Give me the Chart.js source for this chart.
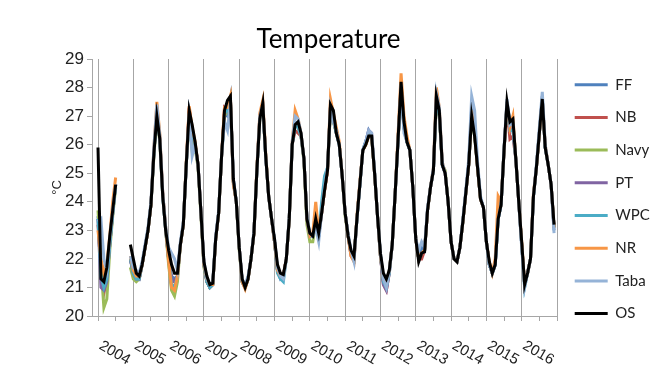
<!DOCTYPE html>
<html>
<head>
<meta charset="utf-8">
<script src="https://cdn.jsdelivr.net/npm/chart.js@4.4.1/dist/chart.umd.min.js"></script>
<style>
html,body{margin:0;padding:0;background:#fff;}
#wrap{width:657px;height:391px;position:relative;}
</style>
</head>
<body>
<div id="wrap"><canvas id="temperatura"></canvas></div>
<script>
// years on the axis, monthly values per station (Jan..Dec each row)
const years = [2004,2005,2006,2007,2008,2009,2010,2011,2012,2013,2014,2015,2016];
const N = null;

const FF = [
 23.5,22.0,21.1,21.5,22.6,23.6,24.6,N,N,N,N,22.0,
 21.5,21.4,21.3,21.8,22.4,23.0,23.9,25.8,27.2,26.3,24.3,23.1,
 22.0,21.4,21.3,21.4,22.5,23.2,25.3,27.1,26.4,26.0,25.3,23.6,
 21.8,21.3,21.0,21.1,22.7,23.6,25.6,27.1,27.0,27.6,24.8,24.0,
 22.4,21.2,21.0,21.3,22.0,22.9,25.1,27.0,27.4,25.6,24.2,23.4,
 22.6,21.6,21.3,21.4,22.0,23.4,26.0,26.8,26.7,26.4,25.5,23.4,
 22.8,22.8,23.3,22.8,23.6,24.5,25.1,27.3,26.8,26.5,26.0,24.9,
 23.6,22.8,22.2,22.0,23.4,24.6,25.8,26.1,26.5,26.3,25.0,23.5,
 22.1,21.2,21.0,21.6,22.5,24.3,26.2,28.0,26.6,26.1,25.8,24.5,
 22.7,22.1,22.4,22.3,23.7,24.5,25.1,27.6,27.1,25.3,25.0,24.0,
 22.6,22.0,21.9,22.4,23.3,24.3,25.3,27.3,26.5,25.2,24.1,23.8,
 22.6,21.8,21.5,21.8,23.5,23.9,25.8,27.5,26.7,26.8,25.5,24.0,
 22.5,21.1,21.5,22.0,24.2,25.2,26.4,27.7,25.9,25.3,24.6,23.0
];
const NB = [
 23.2,21.6,20.8,21.3,22.5,23.6,24.6,N,N,N,N,22.0,
 21.5,21.3,21.3,21.8,22.4,23.0,23.9,25.7,27.2,26.2,24.3,23.0,
 22.0,21.2,21.2,21.4,22.5,23.2,25.3,27.3,26.4,26.0,25.3,23.6,
 21.8,21.2,21.0,21.1,22.7,23.6,25.6,27.3,27.2,27.6,24.7,24.0,
 22.4,21.2,21.0,21.3,22.0,22.9,25.1,27.0,27.4,25.6,24.2,23.4,
 22.6,21.6,21.4,21.4,22.0,23.4,26.0,26.5,26.4,26.3,25.5,23.4,
 22.8,22.8,23.4,22.8,23.6,24.4,25.1,27.3,26.9,26.4,26.0,24.9,
 23.6,22.8,22.1,21.95,23.4,24.6,25.8,26.0,26.3,26.3,25.0,23.5,
 22.1,21.1,20.9,21.5,22.5,24.3,26.2,28.1,26.6,26.1,25.8,24.5,
 22.7,22.0,22.0,22.3,23.7,24.5,25.1,27.6,27.1,25.3,25.0,24.0,
 22.6,22.0,21.9,22.4,23.3,24.3,25.3,27.1,26.4,25.2,24.1,23.8,
 22.6,21.8,21.5,21.8,23.4,23.9,25.8,27.3,26.2,26.3,25.5,24.0,
 22.5,21.1,21.5,22.0,24.2,25.2,26.4,27.6,25.9,25.3,24.6,23.1
];
const Navy = [
 23.7,21.8,20.3,20.6,22.3,23.5,24.5,N,N,N,N,21.7,
 21.3,21.2,21.3,21.8,22.4,23.0,23.9,25.6,27.0,26.1,24.2,23.0,
 21.8,20.9,20.7,21.2,22.5,23.2,25.3,26.9,25.8,25.9,25.2,23.5,
 21.7,21.2,21.0,21.1,22.7,23.6,25.6,27.0,27.2,27.6,24.7,24.0,
 22.3,21.2,21.0,21.3,22.0,22.9,25.1,26.9,27.3,25.6,24.2,23.4,
 22.6,21.6,21.4,21.4,22.0,23.4,26.0,26.7,26.6,26.3,25.4,23.2,
 22.6,22.6,23.3,22.8,23.6,24.4,25.1,27.2,26.8,26.4,26.0,24.9,
 23.5,22.8,22.2,22.0,23.4,24.6,25.8,26.0,26.3,26.3,25.0,23.5,
 22.1,21.3,21.1,21.6,22.5,24.3,26.2,28.0,26.6,26.1,25.8,24.5,
 22.7,22.0,22.2,22.3,23.7,24.5,25.1,27.5,27.0,25.3,25.1,24.0,
 22.6,22.0,21.9,22.4,23.3,24.3,25.3,27.0,26.3,25.2,24.1,23.8,
 22.6,21.8,21.5,21.8,23.4,23.9,25.8,27.4,26.6,26.8,25.5,24.0,
 22.5,21.1,21.5,22.0,24.2,25.2,26.4,27.6,25.9,25.3,24.6,23.1
];
const PT = [
 23.4,21.0,20.9,21.2,22.5,23.6,24.6,N,N,N,N,22.0,
 21.5,21.3,21.3,21.8,22.4,23.0,23.9,25.7,27.1,26.2,24.2,23.0,
 22.0,21.3,21.2,21.4,22.5,23.2,25.3,27.1,26.3,26.0,25.3,23.6,
 21.8,21.2,21.0,21.1,22.7,23.6,25.6,27.1,27.2,27.6,24.7,24.0,
 22.4,21.2,21.0,21.3,22.0,22.9,25.1,27.0,27.4,25.6,24.2,23.4,
 22.6,21.6,21.4,21.4,22.0,23.4,26.0,26.7,26.6,26.3,25.5,23.4,
 22.8,22.8,23.3,22.8,23.6,24.4,25.1,27.3,26.9,26.4,26.0,24.9,
 23.6,22.8,22.2,22.0,23.4,24.6,25.8,26.1,26.5,26.4,25.0,23.5,
 22.1,21.1,20.9,21.5,22.5,24.3,26.2,28.0,26.6,26.1,25.8,24.5,
 22.7,22.0,22.2,22.3,23.7,24.5,25.1,27.6,27.1,25.3,25.0,24.0,
 22.6,22.0,21.9,22.4,23.3,24.3,25.3,27.1,26.4,25.2,24.1,23.8,
 22.6,21.8,21.5,21.8,23.4,23.9,25.8,27.4,26.6,26.6,25.5,24.0,
 22.5,21.1,21.5,22.0,24.2,25.2,26.4,27.6,25.9,25.3,24.6,23.1
];
const WPC = [
 23.4,21.4,21.0,21.3,22.5,23.6,24.6,N,N,N,N,22.0,
 21.5,21.3,21.3,21.8,22.4,23.0,23.9,25.7,27.1,26.2,24.2,23.0,
 22.0,21.1,21.0,21.4,22.5,23.2,25.3,27.1,26.3,26.0,25.3,23.6,
 21.8,21.2,21.0,21.1,22.7,23.6,25.6,27.1,27.2,27.6,24.7,24.0,
 22.4,21.2,21.0,21.3,22.0,22.9,25.1,27.0,27.4,25.6,24.2,23.4,
 22.6,21.5,21.3,21.2,22.0,23.4,26.0,26.7,26.6,26.3,25.5,23.4,
 22.8,22.8,23.3,22.8,24.0,24.9,25.2,27.3,26.9,26.4,26.0,24.9,
 23.6,22.8,22.2,22.0,23.4,24.6,25.8,26.1,26.4,26.3,25.0,23.5,
 22.1,21.2,21.0,21.5,22.5,24.3,26.2,28.0,26.6,26.1,25.8,24.5,
 22.7,22.0,22.2,22.3,23.7,24.5,25.1,27.6,27.1,25.3,25.0,24.0,
 22.6,22.0,21.9,22.4,23.3,24.3,25.3,27.1,26.4,25.2,24.1,23.8,
 22.6,21.8,21.5,21.8,23.4,23.9,25.8,27.4,26.5,26.5,25.5,24.0,
 22.5,21.0,21.5,22.0,24.2,25.2,26.4,27.6,25.9,25.3,24.6,23.1
];
const NR = [
 23.0,22.0,21.5,21.8,22.8,24.0,24.85,N,N,N,N,22.1,
 21.6,21.4,21.4,21.8,22.4,23.0,23.9,25.9,27.5,26.4,24.3,23.1,
 21.9,21.0,20.9,21.4,22.5,23.2,25.4,27.35,26.6,26.1,25.3,23.6,
 21.8,21.3,21.1,21.1,22.7,23.6,25.6,27.3,27.3,27.7,24.6,24.0,
 22.4,21.2,20.95,21.3,22.0,22.9,25.2,27.1,27.55,25.7,24.2,23.4,
 22.6,21.6,21.4,21.4,22.0,23.4,26.1,27.2,26.9,26.4,25.5,23.4,
 22.8,22.9,24.0,22.9,23.6,24.4,25.1,27.6,27.1,26.6,26.1,24.9,
 23.6,22.8,22.1,21.9,23.5,24.7,25.8,26.0,26.3,26.3,25.0,23.5,
 22.1,21.3,21.1,21.6,22.5,24.3,26.4,28.5,27.0,26.3,25.8,24.5,
 22.7,22.0,22.2,22.3,23.7,24.5,25.2,28.0,27.3,25.4,25.0,24.0,
 22.6,22.0,21.9,22.4,23.3,24.3,25.3,27.2,26.4,25.2,24.1,23.8,
 22.6,21.9,21.5,22.0,24.2,24.0,25.8,27.5,26.6,27.0,25.5,24.0,
 22.6,21.1,21.5,22.0,24.3,25.2,26.4,27.6,26.0,25.3,24.6,23.1
];
const Taba = [
 23.3,23.4,22.0,21.6,22.7,23.7,24.6,N,N,N,N,22.1,
 21.7,21.6,21.5,21.9,22.5,23.1,24.0,25.9,27.4,26.3,24.3,23.1,
 22.4,22.2,22.0,21.6,22.6,23.3,25.3,27.1,25.6,26.0,25.3,23.6,
 21.9,21.3,21.1,21.2,22.8,23.7,25.6,26.8,26.5,27.5,24.8,24.0,
 22.4,21.3,21.1,21.4,22.0,23.0,25.1,27.0,27.4,25.6,24.2,23.4,
 22.7,21.7,21.4,21.3,22.0,23.5,26.1,27.0,26.9,26.4,25.5,23.5,
 22.9,22.8,23.1,22.6,23.6,24.5,25.2,27.3,26.8,26.5,26.0,24.9,
 23.6,22.9,22.3,21.9,23.4,24.6,25.8,26.1,26.5,26.4,25.1,23.5,
 22.2,21.3,21.0,21.6,22.5,24.3,26.2,28.1,26.4,26.1,25.8,24.5,
 22.7,22.3,22.6,22.4,23.8,24.5,25.2,27.8,27.3,25.4,25.0,24.0,
 22.6,22.0,21.9,22.4,23.4,24.4,25.5,27.7,27.2,25.4,24.2,23.8,
 22.6,21.8,21.5,21.8,23.4,23.9,25.9,27.6,26.7,26.8,25.5,24.0,
 22.4,21.0,21.5,22.0,24.2,25.3,26.6,27.85,26.0,25.3,24.6,22.9
];
const OS = [
 25.9,21.3,21.2,21.7,22.8,23.7,24.6,N,N,N,N,22.5,
 22.0,21.5,21.4,21.8,22.4,23.0,23.9,25.7,27.0,26.2,24.2,23.0,
 22.3,21.8,21.5,21.5,22.5,23.2,25.3,27.2,26.7,26.1,25.3,23.6,
 21.9,21.4,21.1,21.15,22.7,23.6,25.6,27.2,27.55,27.7,24.8,24.0,
 22.4,21.3,21.0,21.3,22.0,22.9,25.1,26.9,27.45,25.6,24.2,23.4,
 22.7,21.8,21.5,21.45,22.0,23.4,26.0,26.7,26.8,26.4,25.5,23.4,
 22.9,22.8,23.4,22.9,23.6,24.4,25.1,27.4,27.2,26.4,26.0,24.9,
 23.6,22.8,22.3,22.1,23.4,24.6,25.8,26.0,26.3,26.3,25.0,23.5,
 22.2,21.5,21.3,21.6,22.5,24.3,26.2,28.2,26.8,26.1,25.8,24.5,
 22.7,21.9,22.2,22.25,23.7,24.5,25.1,27.7,27.2,25.3,25.0,24.0,
 22.6,22.0,21.9,22.4,23.3,24.3,25.3,27.0,26.3,25.2,24.1,23.8,
 22.6,21.9,21.5,21.8,23.4,23.9,25.8,27.5,26.8,26.9,25.5,24.0,
 22.6,21.1,21.5,22.0,24.2,25.2,26.4,27.6,25.9,25.3,24.6,23.2
];

// fecha de cada mes como fraccion de anio
const meses = [];
years.forEach(a => { for (let m = 0; m < 12; m++) meses.push(a + m / 12); });

const series = [
  ["FF", FF, "#4F81BD"],
  ["NB", NB, "#C0504D"],
  ["Navy", Navy, "#9BBB59"],
  ["PT", PT, "#8064A2"],
  ["WPC", WPC, "#4BACC6"],
  ["NR", NR, "#F79646"],
  ["Taba", Taba, "#95B3D7"],
  ["OS", OS, "#000000"]
];
const gris = "#a6a6a6";

// etiquetas de anios inclinadas hacia abajo
const etiquetasAnios = {
  id: "etiquetasAnios",
  afterDraw(chart) {
    const xs = chart.scales.x, ctx = chart.ctx;
    ctx.save();
    ctx.font = '15px "Liberation Sans", Arial, sans-serif';
    ctx.fillStyle = "#222";
    ctx.textAlign = "center";
    ctx.textBaseline = "middle";
    years.forEach(a => {
      const px = xs.getPixelForValue(a + 0.5) - 1;
      ctx.save();
      ctx.translate(px, xs.top + 37);
      ctx.rotate(Math.PI / 6);
      ctx.fillText(String(a), 0, 0);
      ctx.restore();
    });
    ctx.restore();
  }
};

const grafico = document.getElementById("temperatura");
const myChart = new Chart(grafico, {
  type: "line",
  data: {
    labels: meses,
    datasets: series.map((s, i) => ({
      label: s[0],
      data: s[1],
      borderColor: s[2],
      backgroundColor: s[2],
      borderWidth: 3,
      pointRadius: 0,
      tension: 0,
      fill: false,
      order: series.length - i
    }))
  },
  options: {
    responsive: true,
    maintainAspectRatio: false,
    animation: false,
    layout: { padding: 0 },
    plugins: {
      title: {
        display: true,
        text: "Temperature",
        color: "#000",
        font: { family: "Lato", size: 26, weight: "normal" },
        padding: { top: 24.5, bottom: 3.3 }
      },
      legend: {
        position: "right",
        align: "start",
        maxWidth: 100,
        title: { display: true, text: "", font: { size: 10 }, padding: { top: 47.5, bottom: 0 } },
        labels: {
          usePointStyle: true,
          pointStyle: "line",
          pointStyleWidth: 33,
          color: "#222",
          font: { family: "Lato", size: 15 },
          padding: 17.7,
          sort: (a, b) => a.datasetIndex - b.datasetIndex
        }
      },
      tooltip: { enabled: false }
    },
    scales: {
      x: {
        type: "linear",
        min: 2003.83,
        max: 2017,
        afterBuildTicks(scale) {
          const t = [];
          for (let v = 2004; v <= 2017; v += 0.5) t.push({ value: v });
          scale.ticks = t;
        },
        afterFit(scale) { scale.height = 75; },
        ticks: { display: false },
        grid: {
          color: c => (c.tick && Number.isInteger(c.tick.value)) ? gris : "rgba(0,0,0,0)",
          tickColor: gris,
          tickLength: 5
        },
        border: { color: gris }
      },
      y: {
        min: 20,
        max: 29,
        afterFit(scale) { scale.width = 92; },
        ticks: {
          stepSize: 1,
          color: "#222",
          padding: 3,
          font: { family: "Liberation Sans", size: 17 }
        },
        grid: { drawOnChartArea: false, color: gris, tickLength: 5 },
        border: { color: gris },
        title: {
          display: true,
          text: "°C",
          color: "#222",
          font: { family: "Liberation Sans", size: 13 },
          padding: { top: 50, bottom: 0 }
        }
      }
    }
  },
  plugins: [etiquetasAnios]
});
</script>
</body>
</html>
